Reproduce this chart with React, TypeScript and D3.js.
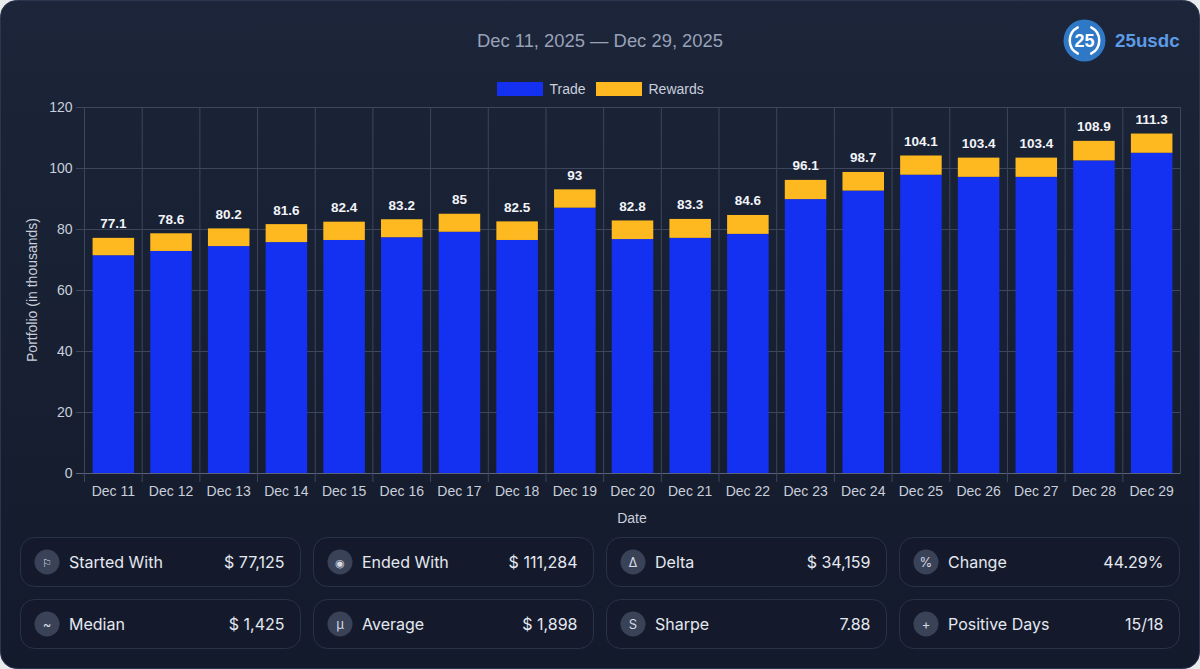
import { useEffect, useRef } from 'react';
import * as d3 from 'd3';

const WIDTH = 1200;
const HEIGHT = 669;

const dates = ['Dec 11', 'Dec 12', 'Dec 13', 'Dec 14', 'Dec 15', 'Dec 16', 'Dec 17', 'Dec 18', 'Dec 19', 'Dec 20', 'Dec 21', 'Dec 22', 'Dec 23', 'Dec 24', 'Dec 25', 'Dec 26', 'Dec 27', 'Dec 28', 'Dec 29'];
const trade = [71.4, 72.8, 74.4, 75.7, 76.4, 77.3, 79.1, 76.4, 87, 76.7, 77.1, 78.4, 89.8, 92.6, 97.8, 97.1, 97.1, 102.5, 105];
const rewards = [5.7, 5.8, 5.8, 5.9, 6, 5.9, 5.9, 6.1, 6, 6.1, 6.2, 6.2, 6.3, 6.1, 6.3, 6.3, 6.3, 6.4, 6.3];
const totals = ['77.1', '78.6', '80.2', '81.6', '82.4', '83.2', '85', '82.5', '93', '82.8', '83.3', '84.6', '96.1', '98.7', '104.1', '103.4', '103.4', '108.9', '111.3'];
const yTicks = [0, 20, 40, 60, 80, 100, 120];

const statLabels = ['Started With', 'Ended With', 'Delta', 'Change', 'Median', 'Average', 'Sharpe', 'Positive Days'];
const statValues = ['$ 77,125', '$ 111,284', '$ 34,159', '44.29%', '$ 1,425', '$ 1,898', '7.88', '15/18'];
const statIcons = ['⚐', '◉', 'Δ', '%', '~', 'µ', 'S', '+'];

const BLUE = '#1431f2';
const GOLD = '#fdb91f';
const CHART_FONT = '"Liberation Sans", Arial, sans-serif';
const CARD_FONT = 'Inter, "Noto Sans", sans-serif';

export default function App() {
  const svgRef = useRef<SVGSVGElement>(null);

  useEffect(() => {
    if (!svgRef.current) return;
    const svg = d3.select(svgRef.current);
    svg.selectAll('*').remove();

    const defs = svg.append('defs');
    const grad = defs.append('linearGradient').attr('id', 'panel').attr('x1', 0).attr('y1', 0).attr('x2', 0).attr('y2', 1);
    grad.append('stop').attr('offset', '0%').attr('stop-color', '#1c2539');
    grad.append('stop').attr('offset', '100%').attr('stop-color', '#131a2b');

    // panel
    svg.append('rect').attr('width', WIDTH).attr('height', HEIGHT).attr('fill', '#e9eaec');
    svg.append('rect')
      .attr('x', 0.5).attr('y', 0.5)
      .attr('width', WIDTH - 1).attr('height', HEIGHT - 1)
      .attr('rx', 16)
      .attr('fill', 'url(#panel)')
      .attr('stroke', '#2a3550');

    // header
    svg.append('text')
      .attr('x', 600).attr('y', 47)
      .attr('text-anchor', 'middle')
      .attr('font-family', CHART_FONT)
      .attr('font-size', 18.4)
      .attr('fill', '#99a2b7')
      .text('Dec 11, 2025 — Dec 29, 2025');

    const logo = svg.append('g').attr('transform', 'translate(1084.5,40.5)');
    logo.append('circle').attr('r', 21).attr('fill', '#2f78c6');
    const arc = d3.arc<{ startAngle: number; endAngle: number }>()
      .innerRadius(13.5).outerRadius(16).cornerRadius(1);
    [
      { startAngle: 0.4, endAngle: 2.75 },
      { startAngle: -2.75, endAngle: -0.4 },
    ].forEach(a => {
      logo.append('path').attr('d', arc(a) as string).attr('fill', '#ffffff');
    });
    logo.append('text')
      .attr('y', 6.5)
      .attr('text-anchor', 'middle')
      .attr('font-family', CHART_FONT)
      .attr('font-weight', 700)
      .attr('font-size', 18)
      .attr('fill', '#ffffff')
      .text('25');
    svg.append('text')
      .attr('x', 1115).attr('y', 47)
      .attr('font-family', CHART_FONT)
      .attr('font-weight', 700)
      .attr('font-size', 18.8)
      .attr('fill', '#5c9be6')
      .text('25usdc');

    // scales
    const xScale = d3.scaleBand<string>()
      .domain(dates)
      .range([84.5, 1180.5])
      .paddingInner(0.28)
      .paddingOuter(0.14);
    const yScale = d3.scaleLinear().domain([0, 120]).range([473, 107]);
    const step = xScale.step();
    const edge = (i: number) => xScale(dates[0])! - step * 0.14 + i * step;

    const plot = svg.append('g');
    const gridColor = '#3d465b';

    // grid
    yTicks.forEach(t => {
      plot.append('line')
        .attr('x1', 76).attr('x2', 1180.5)
        .attr('y1', yScale(t) + 0.5).attr('y2', yScale(t) + 0.5)
        .attr('stroke', t === 0 ? '#59627a' : gridColor);
    });
    d3.range(dates.length + 1).forEach(i => {
      plot.append('line')
        .attr('x1', edge(i)).attr('x2', edge(i))
        .attr('y1', 107).attr('y2', i === dates.length ? 473 : 482)
        .attr('stroke', gridColor);
    });

    // stacked bars
    const rows = dates.map((date, i) => ({ date, trade: trade[i], rewards: rewards[i] }));
    const stacked = d3.stack<{ date: string; trade: number; rewards: number }, string>()
      .keys(['trade', 'rewards'])(rows);
    const colors = [BLUE, GOLD];
    stacked.forEach((layer, k) => {
      plot.append('g')
        .selectAll('rect')
        .data(layer)
        .enter()
        .append('rect')
        .attr('x', d => xScale(d.data.date)!)
        .attr('y', d => yScale(d[1]))
        .attr('width', xScale.bandwidth())
        .attr('height', d => yScale(d[0]) - yScale(d[1]))
        .attr('fill', colors[k]);
    });

    // total labels
    plot.append('g')
      .selectAll('text')
      .data(rows)
      .enter()
      .append('text')
      .attr('x', d => xScale(d.date)! + xScale.bandwidth() / 2)
      .attr('y', d => yScale(d.trade + d.rewards) - 9.5)
      .attr('text-anchor', 'middle')
      .attr('font-family', CHART_FONT)
      .attr('font-weight', 700)
      .attr('font-size', 13.5)
      .attr('fill', '#f2f4f8')
      .text((_, i) => totals[i]);

    // axes
    const xAxis = svg.append('g')
      .attr('transform', 'translate(0,473)')
      .call(d3.axisBottom(xScale).tickSize(0).tickPadding(13));
    const yAxis = svg.append('g')
      .attr('transform', 'translate(84.5,0)')
      .call(d3.axisLeft(yScale).tickValues(yTicks).tickSize(0).tickPadding(12));
    [xAxis, yAxis].forEach(a => {
      a.select('.domain').remove();
      a.selectAll('text')
        .attr('font-family', CHART_FONT)
        .attr('font-size', 14)
        .attr('fill', '#c9cfdb');
    });

    svg.append('text')
      .attr('transform', 'rotate(-90)')
      .attr('x', -290).attr('y', 37)
      .attr('text-anchor', 'middle')
      .attr('font-family', CHART_FONT)
      .attr('font-size', 14)
      .attr('fill', '#c9cfdb')
      .text('Portfolio (in thousands)');
    svg.append('text')
      .attr('x', 632).attr('y', 523)
      .attr('text-anchor', 'middle')
      .attr('font-family', CHART_FONT)
      .attr('font-size', 14)
      .attr('fill', '#c9cfdb')
      .text('Date');

    // legend
    const legendItems = [
      { label: 'Trade', x: 497, color: BLUE },
      { label: 'Rewards', x: 596, color: GOLD },
    ];
    legendItems.forEach(item => {
      svg.append('rect')
        .attr('x', item.x).attr('y', 82)
        .attr('width', 46).attr('height', 14)
        .attr('fill', item.color);
      svg.append('text')
        .attr('x', item.x + 52.5).attr('y', 93.5)
        .attr('font-family', CHART_FONT)
        .attr('font-size', 14)
        .attr('fill', '#c9cfdb')
        .text(item.label);
    });

    // stat cards
    const cardW = 281;
    const cardH = 50;
    const cardX = [20, 313, 606, 899];
    const cardY = [537, 599];
    statLabels.forEach((label, i) => {
      const x = cardX[i % 4];
      const y = cardY[Math.floor(i / 4)];
      const g = svg.append('g').attr('transform', `translate(${x},${y})`);
      g.append('rect')
        .attr('x', 0.5).attr('y', 0.5)
        .attr('width', cardW - 1).attr('height', cardH - 1)
        .attr('rx', 14)
        .attr('fill', '#141a2c')
        .attr('stroke', '#2a3248');
      g.append('circle').attr('cx', 27).attr('cy', 25).attr('r', 12.5).attr('fill', '#3a4257');
      g.append('text')
        .attr('x', 27).attr('y', 29.5)
        .attr('text-anchor', 'middle')
        .attr('font-family', CARD_FONT)
        .attr('font-size', i === 0 || i === 1 ? 11 : 13)
        .attr('fill', '#d4d9e4')
        .text(statIcons[i]);
      g.append('text')
        .attr('x', 49).attr('y', 31)
        .attr('font-family', CARD_FONT)
        .attr('font-size', 16)
        .attr('fill', '#e4e8f0')
        .text(label);
      g.append('text')
        .attr('x', cardW - 16.5).attr('y', 31)
        .attr('text-anchor', 'end')
        .attr('font-family', CARD_FONT)
        .attr('font-size', 16)
        .attr('fill', '#e4e8f0')
        .text(statValues[i]);
    });
  }, []);

  return (
    <svg
      ref={svgRef}
      width={WIDTH}
      height={HEIGHT}
      style={{ position: 'absolute', left: 0, top: 0, display: 'block' }}
    ></svg>
  );
}
